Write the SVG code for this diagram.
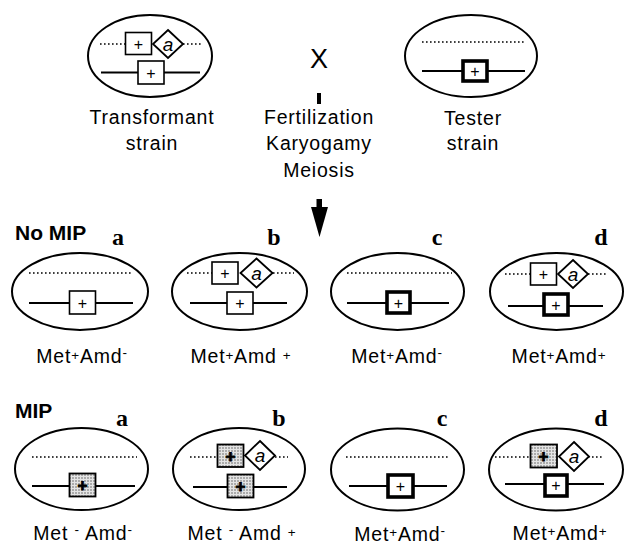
<svg xmlns="http://www.w3.org/2000/svg" width="625" height="545" viewBox="0 0 625 545">
  <defs>
    <pattern id="stipple" width="3" height="3" patternUnits="userSpaceOnUse">
      <rect width="3" height="3" fill="#e4e4e4"/>
      <circle cx="1" cy="1" r="0.75" fill="#555"/>
    </pattern>
    <style>
      .cell { fill: none; stroke: #000; stroke-width: 2; }
      .dna { stroke: #000; stroke-width: 1.8; fill: none; }
      .dot { stroke: #000; stroke-width: 1.6; fill: none; stroke-dasharray: 1.6 2.4; }
      .gene { fill: #fff; stroke: #000; stroke-width: 1.6; }
      .tester { fill: #fff; stroke: #000; stroke-width: 3.6; }
      .mip { fill: url(#stipple); stroke: #000; stroke-width: 1.8; }
      .marker { fill: #fff; stroke: #000; stroke-width: 1.8; }
      .plus { font-family: "Liberation Sans", Arial, sans-serif; font-size: 16px; text-anchor: middle; fill: #000; }
      .plusb { font-family: "Liberation Sans", Arial, sans-serif; font-size: 17px; font-weight: bold; text-anchor: middle; fill: #000; stroke: #000; stroke-width: 0.9; }
      .amd { font-family: "Liberation Sans", Arial, sans-serif; font-size: 19px; font-style: italic; text-anchor: middle; fill: #000; }
      .lbl { font-family: "Liberation Sans", Arial, sans-serif; font-size: 19.5px; text-anchor: middle; fill: #000; letter-spacing: 0.8px; }
      .sup { font-size: 13.5px; }
      .head { font-family: "Liberation Sans", Arial, sans-serif; font-size: 21px; font-weight: bold; fill: #000; }
      .tag { font-family: "Liberation Serif", "Times New Roman", serif; font-size: 24px; font-weight: bold; text-anchor: middle; fill: #000; }
    </style>
  </defs>

  <!-- parental strains -->
  <g id="transformant">
    <ellipse class="cell" cx="150" cy="56" rx="62" ry="41"/>
    <line class="dot" x1="100" y1="44" x2="125" y2="44"/>
    <line class="dot" x1="183" y1="44" x2="203" y2="44"/>
    <rect class="gene" x="125.5" y="32.5" width="26" height="22"/>
    <text class="plus" x="138.5" y="49.5">+</text>
    <polygon class="marker" points="168,30 183,44 168,58 153,44"/>
    <text class="amd" x="168" y="50.5">a</text>
    <line class="dna" x1="101" y1="72.5" x2="200" y2="72.5"/>
    <rect class="gene" x="138" y="61" width="26" height="23"/>
    <text class="plus" x="151" y="78.5">+</text>
    <text class="lbl" x="152" y="124">Transformant</text>
    <text class="lbl" x="152" y="150">strain</text>
  </g>

  <g id="cross">
    <text x="319" y="68" font-family="Liberation Sans, Arial, sans-serif" font-size="27" text-anchor="middle">X</text>
  </g>

  <g id="tester">
    <ellipse class="cell" cx="471" cy="56" rx="66" ry="41"/>
    <line class="dot" x1="422" y1="42" x2="526" y2="42"/>
    <line class="dna" x1="422" y1="71" x2="525" y2="71"/>
    <rect class="tester" x="463" y="61" width="24" height="20"/>
    <text class="plus" x="475" y="76.5">+</text>
    <text class="lbl" x="473" y="125">Tester</text>
    <text class="lbl" x="473" y="150">strain</text>
  </g>

  <g id="process">
    <text class="lbl" x="319" y="124">Fertilization</text>
    <text class="lbl" x="319" y="150">Karyogamy</text>
    <text class="lbl" x="319" y="177">Meiosis</text>
  </g>

  <g id="connectors">
    <rect x="317" y="93" width="4" height="11" fill="#000"/>
    <rect x="316.5" y="199" width="5.5" height="10" fill="#000"/>
    <polygon points="311,207 328,207 319.5,237" fill="#000"/>
  </g>

  <!-- progeny without MIP -->
  <g id="nomip-head">
    <text class="head" x="15" y="240">No MIP</text>
  </g>

  <g id="nomip-a">
    <text class="tag" x="118" y="245">a</text>
    <ellipse class="cell" cx="80" cy="291.5" rx="68" ry="38.5"/>
    <line class="dot" x1="29" y1="273" x2="133" y2="273"/>
    <line class="dna" x1="29" y1="303" x2="133" y2="303"/>
    <rect class="gene" x="69.5" y="291" width="26" height="23"/>
    <text class="plus" x="82.5" y="308.5">+</text>
    <text class="lbl" x="82" y="363">Met<tspan class="sup" dy="-3">+</tspan><tspan dy="3">Amd</tspan><tspan class="sup" dy="-6">-</tspan></text>
  </g>

  <g id="nomip-b">
    <text class="tag" x="274" y="245">b</text>
    <ellipse class="cell" cx="239.5" cy="291.5" rx="67.5" ry="38.5"/>
    <line class="dot" x1="187" y1="273" x2="212" y2="273"/>
    <line class="dot" x1="273" y1="273" x2="294" y2="273"/>
    <rect class="gene" x="212" y="262" width="26" height="22"/>
    <text class="plus" x="225" y="278.5">+</text>
    <polygon class="marker" points="256.5,258.5 272.5,273 256.5,287.5 240.5,273"/>
    <text class="amd" x="256.5" y="279.5">a</text>
    <line class="dna" x1="190" y1="303" x2="287" y2="303"/>
    <rect class="gene" x="227" y="292" width="26" height="22"/>
    <text class="plus" x="240" y="308.5">+</text>
    <text class="lbl" x="241" y="363">Met<tspan class="sup" dy="-3">+</tspan><tspan dy="3">Amd </tspan><tspan class="sup" dy="-3">+</tspan></text>
  </g>

  <g id="nomip-c">
    <text class="tag" x="437" y="245">c</text>
    <ellipse class="cell" cx="397.5" cy="291.5" rx="66.5" ry="38.5"/>
    <line class="dot" x1="347" y1="273" x2="452" y2="273"/>
    <line class="dna" x1="347" y1="303" x2="449" y2="303"/>
    <rect class="tester" x="387" y="292" width="23" height="21"/>
    <text class="plus" x="398.5" y="308.5">+</text>
    <text class="lbl" x="397" y="363">Met<tspan class="sup" dy="-3">+</tspan><tspan dy="3">Amd</tspan><tspan class="sup" dy="-6">-</tspan></text>
  </g>

  <g id="nomip-d">
    <text class="tag" x="601" y="245">d</text>
    <ellipse class="cell" cx="556.5" cy="291.5" rx="66.5" ry="38.5"/>
    <line class="dot" x1="505" y1="274" x2="530" y2="274"/>
    <line class="dot" x1="588" y1="274" x2="608" y2="274"/>
    <rect class="gene" x="530.5" y="263" width="26" height="22"/>
    <text class="plus" x="543.5" y="279.5">+</text>
    <polygon class="marker" points="573,260 588,274 573,288 558,274"/>
    <text class="amd" x="573" y="280.5">a</text>
    <line class="dna" x1="508" y1="306" x2="603" y2="306"/>
    <rect class="tester" x="544" y="294" width="24" height="21"/>
    <text class="plus" x="556" y="310.5">+</text>
    <text class="lbl" x="559" y="363">Met<tspan class="sup" dy="-3">+</tspan><tspan dy="3">Amd</tspan><tspan class="sup" dy="-3">+</tspan></text>
  </g>

  <!-- progeny with MIP -->
  <g id="mip-head">
    <text class="head" x="15" y="418">MIP</text>
  </g>

  <g id="mip-a">
    <text class="tag" x="122" y="426">a</text>
    <ellipse class="cell" cx="81.5" cy="469" rx="66.5" ry="41"/>
    <line class="dot" x1="32" y1="457" x2="137" y2="457"/>
    <line class="dna" x1="32" y1="486" x2="135" y2="486"/>
    <rect class="mip" x="69.5" y="473.5" width="26" height="23"/>
    <text class="plusb" x="82.5" y="491">+</text>
    <text class="lbl" x="83" y="540">Met <tspan class="sup" dy="-6">-</tspan><tspan dy="6"> Amd</tspan><tspan class="sup" dy="-6">-</tspan></text>
  </g>

  <g id="mip-b">
    <text class="tag" x="279" y="426">b</text>
    <ellipse class="cell" cx="239" cy="469" rx="66" ry="41"/>
    <line class="dot" x1="190" y1="457" x2="217" y2="457"/>
    <line class="dot" x1="275" y1="457" x2="288" y2="457"/>
    <rect class="mip" x="217.5" y="444.5" width="26" height="22.5"/>
    <text class="plusb" x="230.5" y="462">+</text>
    <polygon class="marker" points="260,441 275,455.5 260,470 245,455.5"/>
    <text class="amd" x="260" y="462">a</text>
    <line class="dna" x1="193" y1="487" x2="287" y2="487"/>
    <rect class="mip" x="227.5" y="474.5" width="26" height="23"/>
    <text class="plusb" x="240.5" y="492">+</text>
    <text class="lbl" x="242" y="540">Met <tspan class="sup" dy="-6">-</tspan><tspan dy="6"> Amd </tspan><tspan class="sup" dy="-3">+</tspan></text>
  </g>

  <g id="mip-c">
    <text class="tag" x="442" y="426">c</text>
    <ellipse class="cell" cx="397.5" cy="469.5" rx="66.5" ry="41"/>
    <line class="dot" x1="346" y1="457" x2="449" y2="457"/>
    <line class="dna" x1="349" y1="486" x2="447" y2="486"/>
    <rect class="tester" x="388" y="475" width="25" height="22"/>
    <text class="plus" x="400.5" y="492">+</text>
    <text class="lbl" x="400" y="541">Met<tspan class="sup" dy="-4">+</tspan><tspan dy="4">Amd</tspan><tspan class="sup" dy="-6">-</tspan></text>
  </g>

  <g id="mip-d">
    <text class="tag" x="601" y="426">d</text>
    <ellipse class="cell" cx="556" cy="469.5" rx="67" ry="41"/>
    <line class="dot" x1="495" y1="457" x2="530" y2="457"/>
    <line class="dot" x1="588" y1="457" x2="604" y2="457"/>
    <rect class="mip" x="530.5" y="444.5" width="26.5" height="23"/>
    <text class="plusb" x="543.5" y="462">+</text>
    <polygon class="marker" points="574,442 589,456.5 574,471 559,456.5"/>
    <text class="amd" x="574" y="463">a</text>
    <line class="dna" x1="505" y1="484" x2="604" y2="484"/>
    <rect class="tester" x="545" y="475" width="22" height="21"/>
    <text class="plus" x="556" y="491">+</text>
    <text class="lbl" x="560" y="540">Met<tspan class="sup" dy="-4">+</tspan><tspan dy="4">Amd</tspan><tspan class="sup" dy="-4">+</tspan></text>
  </g>
</svg>
